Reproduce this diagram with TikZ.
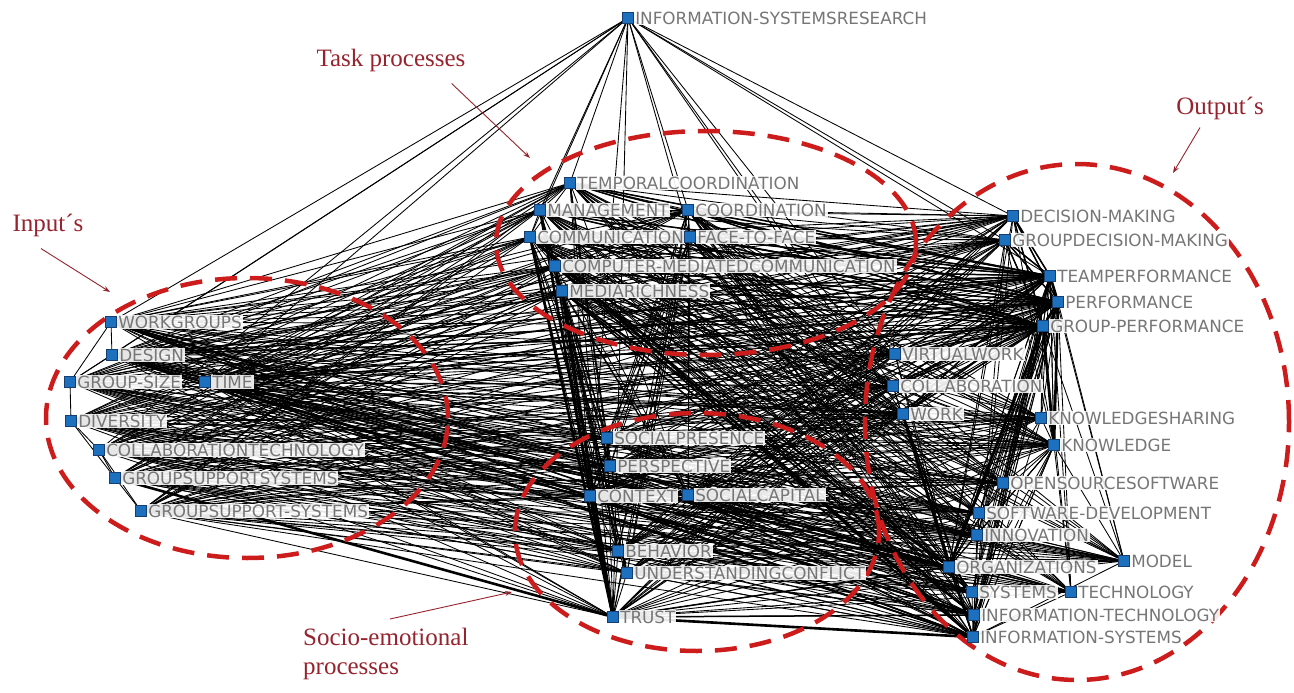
\documentclass[tikz,border=0pt]{standalone}
\usepackage{fontspec}
\usetikzlibrary{arrows.meta}
\newfontfamily\labfont{DejaVu Sans}
\newfontfamily\notefont{Liberation Serif}
\definecolor{nodeblue}{RGB}{28,112,189}
\definecolor{nodeedge}{RGB}{22,62,112}
\definecolor{labelgray}{RGB}{118,118,118}
\definecolor{ringred}{RGB}{204,28,28}
\definecolor{notered}{RGB}{150,35,45}
\pgfdeclarelayer{edges}
\pgfsetlayers{edges,main}
\tikzset{
  sq/.style={draw=nodeedge, fill=nodeblue, line width=0.6pt, minimum size=11.5pt, inner sep=0pt},
  lbl/.style={text=labelgray, fill=white, fill opacity=0.9, text opacity=1, inner sep=1pt,
    font={\labfont\fontsize{16.8pt}{18pt}\selectfont}},
  link/.style={black, line width=0.85pt},
  heavy/.style={black, line width=1.5pt},
  strong/.style={black, line width=2.6pt},
  ring/.style={ringred, line width=4.5pt, dash pattern=on 22pt off 13pt},
  note/.style={text=notered, inner sep=0pt, align=left, font={\notefont\fontsize{25pt}{29pt}\selectfont}},
  notearrow/.style={notered, line width=0.9pt, -{Stealth[length=7pt,width=5pt]}}
}
\def\inputs{wg,des,gsz,time,div,ctec,gss,gssb}
\def\tasks{tco,mgmt,coord,comm,ftf,cmc,mrich}
\def\socios{spres,persp,ctx,scap,behav,uconf,trust}
\def\outputs{dm,gdm,tperf,perf,gperf,vw,collab,work,ksh,know,oss,swdev,innov,model,org,sys,tech,itech,isys}
\begin{document}
\begin{tikzpicture}[x=1pt,y=-1pt]
\useasboundingbox (0,0) rectangle (1294,693);

% groups
\draw[ring] (247,418) ellipse [x radius=201pt, y radius=140pt];
\draw[ring] (706,243) ellipse [x radius=210pt, y radius=112pt];
\draw[ring] (697,532) ellipse [x radius=182pt, y radius=119pt];
\draw[ring] (1077,422) ellipse [x radius=212pt, y radius=258pt];

% hub
\node[sq, label={[lbl]right:INFORMATION-SYSTEMSRESEARCH}] (isr) at (628,18) {};

% input
\node[sq, label={[lbl]right:WORKGROUPS}] (wg) at (111,322) {};
\node[sq, label={[lbl]right:DESIGN}] (des) at (112,355) {};
\node[sq, label={[lbl]right:GROUP-SIZE}] (gsz) at (70,382) {};
\node[sq, label={[lbl]right:TIME}] (time) at (205,382) {};
\node[sq, label={[lbl]right:DIVERSITY}] (div) at (71,421) {};
\node[sq, label={[lbl]right:COLLABORATIONTECHNOLOGY}] (ctec) at (99,450) {};
\node[sq, label={[lbl]right:GROUPSUPPORTSYSTEMS}] (gss) at (115,478) {};
\node[sq, label={[lbl]right:GROUPSUPPORT-SYSTEMS}] (gssb) at (141,511) {};

% task processes
\node[sq, label={[lbl]right:TEMPORALCOORDINATION}] (tco) at (570,183) {};
\node[sq, label={[lbl]right:MANAGEMENT}] (mgmt) at (540,210) {};
\node[sq, label={[lbl]right:COORDINATION}] (coord) at (688,210) {};
\node[sq, label={[lbl]right:COMMUNICATION}] (comm) at (530,237) {};
\node[sq, label={[lbl]right:FACE-TO-FACE}] (ftf) at (690,237) {};
\node[sq, label={[lbl]right:COMPUTER-MEDIATEDCOMMUNICATION}] (cmc) at (555,266) {};
\node[sq, label={[lbl]right:MEDIARICHNESS}] (mrich) at (562,291) {};

% socio-emotional processes
\node[sq, label={[lbl]right:SOCIALPRESENCE}] (spres) at (607,438) {};
\node[sq, label={[lbl]right:PERSPECTIVE}] (persp) at (610,466) {};
\node[sq, label={[lbl]right:CONTEXT}] (ctx) at (590,496) {};
\node[sq, label={[lbl]right:SOCIALCAPITAL}] (scap) at (688,495) {};
\node[sq, label={[lbl]right:BEHAVIOR}] (behav) at (618,551) {};
\node[sq, label={[lbl]right:UNDERSTANDINGCONFLICT}] (uconf) at (627,573) {};
\node[sq, label={[lbl]right:TRUST}] (trust) at (613,617) {};

% output
\node[sq, label={[lbl]right:DECISION-MAKING}] (dm) at (1013,216) {};
\node[sq, label={[lbl]right:GROUPDECISION-MAKING}] (gdm) at (1005,240) {};
\node[sq, label={[lbl]right:TEAMPERFORMANCE}] (tperf) at (1050,276) {};
\node[sq, label={[lbl]right:PERFORMANCE}] (perf) at (1058,302) {};
\node[sq, label={[lbl]right:GROUP-PERFORMANCE}] (gperf) at (1043,326) {};
\node[sq, label={[lbl]right:VIRTUALWORK}] (vw) at (895,354) {};
\node[sq, label={[lbl]right:COLLABORATION}] (collab) at (893,386) {};
\node[sq, label={[lbl]right:WORK}] (work) at (903,414) {};
\node[sq, label={[lbl]right:KNOWLEDGESHARING}] (ksh) at (1041,418) {};
\node[sq, label={[lbl]right:KNOWLEDGE}] (know) at (1054,445) {};
\node[sq, label={[lbl]right:OPENSOURCESOFTWARE}] (oss) at (1003,483) {};
\node[sq, label={[lbl]right:SOFTWARE-DEVELOPMENT}] (swdev) at (979,513) {};
\node[sq, label={[lbl]right:INNOVATION}] (innov) at (977,535) {};
\node[sq, label={[lbl]right:MODEL}] (model) at (1124,561) {};
\node[sq, label={[lbl]right:ORGANIZATIONS}] (org) at (949,567) {};
\node[sq, label={[lbl]right:SYSTEMS}] (sys) at (972,592) {};
\node[sq, label={[lbl]right:TECHNOLOGY}] (tech) at (1071,592) {};
\node[sq, label={[lbl]right:INFORMATION-TECHNOLOGY}] (itech) at (974,615) {};
\node[sq, label={[lbl]right:INFORMATION-SYSTEMS}] (isys) at (973,637) {};

% notes
\node[note] (input-note) at (48,225) {Input´s};
\node[note] (task-note) at (391,60) {Task processes};
\node[note] (output-note) at (1220,108) {Output´s};
\node[note, anchor=north west] (socio-note) at (303,628) {Socio-emotional\\processes};
\coordinate (input-tip) at (110,292);
\coordinate (task-tip) at (530,158);
\coordinate (output-tip) at (1173,173);
\coordinate (socio-tip) at (512,592);
\draw[notearrow] ([xshift=-7pt,yshift=-12pt]input-note.south) -- (input-tip);
\draw[notearrow] ([xshift=-14pt,yshift=-12pt]task-note.south east) -- (task-tip);
\draw[notearrow] ([xshift=-20pt,yshift=-8pt]output-note.south) -- (output-tip);
\draw[notearrow] ([xshift=87pt,yshift=9pt]socio-note.north west) -- (socio-tip);

\begin{pgfonlayer}{edges}
% links between the groups
\foreach \a in \inputs {
  \foreach \b in \tasks {\draw[link] (\a) -- (\b);}
  \foreach \b in \socios {\draw[link] (\a) -- (\b);}
  \foreach \b in \outputs {\draw[link] (\a) -- (\b);}
}
\foreach \a in \tasks {
  \foreach \b in \socios {\draw[link] (\a) -- (\b);}
  \foreach \b in \outputs {\draw[link] (\a) -- (\b);}
}
\foreach \a in \socios {
  \foreach \b in \outputs {\draw[link] (\a) -- (\b);}
}
% links inside the groups
\foreach \a in {perf,gperf,tperf,know,org,isys} {
  \foreach \b in \outputs {\draw[link] (\a) -- (\b);}
}
\foreach \a/\b in {wg/des,wg/gsz,des/gsz,des/time,gsz/time,gsz/div,div/ctec,div/gss,ctec/gss,gss/gssb,ctec/gssb,
  tco/mgmt,tco/comm,tco/coord,mgmt/coord,mgmt/comm,coord/ftf,comm/ftf,comm/cmc,cmc/mrich,mgmt/cmc,
  spres/persp,persp/ctx,ctx/scap,ctx/behav,scap/behav,behav/uconf,behav/trust,uconf/trust,spres/trust}
  \draw[link] (\a) -- (\b);
\foreach \b in {wg,des,gsz,time,ctec,tco,mgmt,comm,ctx,trust,coord,ftf,vw,collab,work,dm,gdm,tperf}
  \draw[link] (isr) -- (\b);
% heavier links
\foreach \a in {comm,cmc,mrich,mgmt,coord,ftf,tco,vw,collab,work,time,des,dm,gdm} {
  \foreach \b in {tperf,perf,gperf} {\draw[heavy] (\a) -- (\b);}
}
\foreach \a in {time,des,wg,cmc,mrich,ctx,scap,trust,work} {
  \foreach \b in {isys,itech,org} {\draw[heavy] (\a) -- (\b);}
}
\foreach \a/\b in {comm/trust,mgmt/trust,ctx/trust,mrich/trust,gss/trust,perf/gperf,tperf/perf,trust/isys,comm/isys,gperf/know,gperf/org,perf/know}
  \draw[strong] (\a) -- (\b);
\end{pgfonlayer}
\end{tikzpicture}
\end{document}
